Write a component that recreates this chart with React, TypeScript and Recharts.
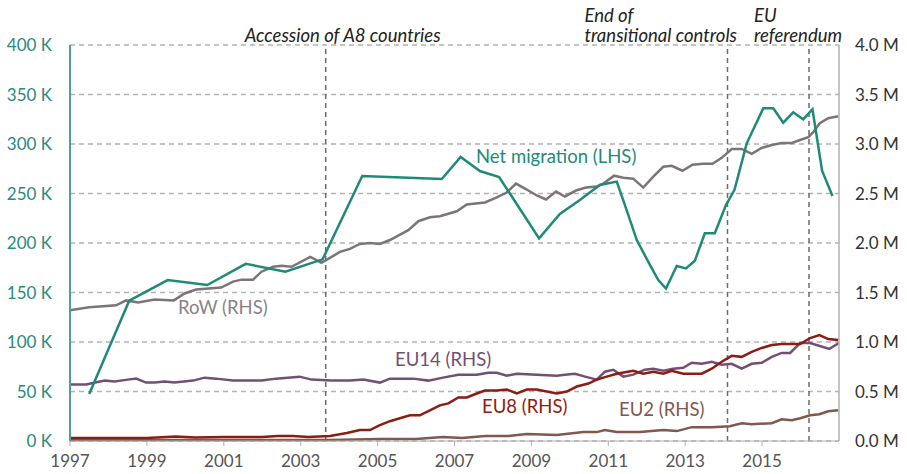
import React from 'react';
import {
  LineChart,
  Line,
  XAxis,
  YAxis,
  CartesianGrid,
  ReferenceLine,
} from 'recharts';

// Net migration, thousands (LHS)
const netYears = [
  1997.5, 1998.54, 1999.54, 2000.57, 2001.57, 2002.6, 2003.57, 2004.6, 2006.67,
  2007.16, 2007.66, 2008.16, 2009.2, 2009.74, 2010.26, 2010.78, 2011.22, 2011.48,
  2011.74, 2012.04, 2012.3, 2012.5, 2012.78, 2013.02, 2013.25, 2013.51, 2013.77,
  2014.06, 2014.28, 2014.6, 2015.03, 2015.29, 2015.55, 2015.81, 2016.07, 2016.31,
  2016.56, 2016.83,
];
const netValues = [
  47.5, 141.7, 162.6, 157.6, 179, 171, 183.5, 267.7, 264.6,
  286.9, 272.7, 266.7, 204.7, 229.3, 243.4, 258.6, 262, 233,
  203, 181, 162.6, 154, 176.8, 174.4, 182, 209.8, 209.8,
  238.4, 253.5, 300.7, 336, 336, 321.5, 332, 325, 335,
  273, 247.5,
];

// Stocks, millions (RHS)
const rowYears = [
  1997.0, 1997.5, 1998.2, 1998.46, 1998.77, 1999.2, 1999.7, 1999.98, 2000.28, 2000.93,
  2001.24, 2001.46, 2001.76, 2001.98, 2002.28, 2002.5, 2002.76, 2003.25, 2003.54, 2003.76,
  2004.02, 2004.28, 2004.54, 2004.8, 2005.06, 2005.32, 2005.8, 2006.06, 2006.36, 2006.62,
  2007.06, 2007.32, 2007.79, 2008.1, 2008.36, 2008.6, 2008.88, 2009.14, 2009.38, 2009.64,
  2009.87, 2010.16, 2010.42, 2010.7, 2010.87, 2011.15, 2011.39, 2011.65, 2011.91, 2012.17,
  2012.43, 2012.65, 2012.93, 2013.19, 2013.47, 2013.71, 2013.95, 2014.21, 2014.47, 2014.73,
  2014.99, 2015.25, 2015.51, 2015.77, 2015.99, 2016.2, 2016.33, 2016.5, 2016.72, 2016.98,
];
const rowValues = [
  1.32, 1.35, 1.37, 1.42, 1.4, 1.43, 1.42, 1.49, 1.53, 1.55,
  1.61, 1.63, 1.63, 1.71, 1.76, 1.77, 1.76, 1.86, 1.8, 1.85,
  1.91, 1.94, 1.99, 2.0, 1.99, 2.03, 2.13, 2.22, 2.26, 2.27,
  2.32, 2.39, 2.41, 2.46, 2.51, 2.6, 2.54, 2.48, 2.44, 2.52,
  2.47, 2.53, 2.56, 2.57, 2.6, 2.68, 2.66, 2.65, 2.56, 2.67,
  2.77, 2.78, 2.73, 2.79, 2.8, 2.8, 2.86, 2.95, 2.95, 2.9,
  2.96, 2.99, 3.01, 3.01, 3.04, 3.07, 3.12, 3.21, 3.26, 3.28,
];

const eu14Years = [
  1997.0, 1997.42, 1997.9, 1998.16, 1998.5, 1998.72, 1998.98, 1999.2, 1999.46, 1999.72,
  2000.2, 2000.5, 2000.8, 2001.24, 2001.67, 2001.98, 2002.36, 2002.97, 2003.28, 2003.8,
  2004.28, 2004.63, 2005.06, 2005.32, 2005.93, 2006.32, 2006.7, 2007.1, 2007.58, 2007.88,
  2008.1, 2008.36, 2008.62, 2009.14, 2009.66, 2009.87, 2010.13, 2010.4, 2010.7, 2010.91,
  2011.13, 2011.39, 2011.65, 2011.95, 2012.17, 2012.43, 2012.69, 2012.95, 2013.17, 2013.43,
  2013.69, 2013.95, 2014.21, 2014.47, 2014.73, 2014.99, 2015.25, 2015.51, 2015.73, 2015.99,
  2016.25, 2016.5, 2016.75, 2017.0,
];
const eu14Values = [
  0.57, 0.57, 0.61, 0.6, 0.62, 0.63, 0.59, 0.59, 0.6, 0.59,
  0.61, 0.64, 0.63, 0.61, 0.61, 0.61, 0.63, 0.65, 0.62, 0.61,
  0.61, 0.62, 0.59, 0.63, 0.63, 0.61, 0.64, 0.67, 0.67, 0.69,
  0.69, 0.66, 0.68, 0.67, 0.66, 0.67, 0.68, 0.65, 0.62, 0.7,
  0.72, 0.65, 0.67, 0.72, 0.73, 0.71, 0.73, 0.74, 0.79, 0.78,
  0.8, 0.77, 0.78, 0.73, 0.78, 0.79, 0.85, 0.89, 0.89, 0.99,
  0.99, 0.96, 0.93, 0.99,
];

const eu8Years = [
  1997.0, 1998.0, 1999.0, 1999.75, 2000.25, 2001.0, 2002.0, 2002.4, 2002.8, 2003.2,
  2003.76, 2004.2, 2004.54, 2004.8, 2005.06, 2005.32, 2005.58, 2005.84, 2006.1, 2006.36,
  2006.62, 2006.84, 2007.1, 2007.32, 2007.58, 2007.79, 2008.1, 2008.36, 2008.62, 2008.88,
  2009.14, 2009.4, 2009.66, 2009.92, 2010.18, 2010.48, 2010.7, 2010.96, 2011.22, 2011.65,
  2011.91, 2012.17, 2012.43, 2012.65, 2012.95, 2013.43, 2013.69, 2013.95, 2014.21, 2014.47,
  2014.73, 2014.99, 2015.25, 2015.51, 2015.77, 2015.99, 2016.25, 2016.49, 2016.72, 2016.98,
];
const eu8Values = [
  0.03, 0.03, 0.03, 0.045, 0.035, 0.04, 0.04, 0.05, 0.05, 0.04,
  0.05, 0.08, 0.11, 0.11, 0.16, 0.2, 0.23, 0.26, 0.26, 0.31,
  0.36, 0.38, 0.44, 0.44, 0.48, 0.51, 0.51, 0.52, 0.48, 0.52,
  0.52, 0.5, 0.48, 0.5, 0.55, 0.58, 0.62, 0.65, 0.68, 0.71,
  0.68, 0.7, 0.68, 0.71, 0.68, 0.68, 0.73, 0.8, 0.86, 0.85,
  0.9, 0.94, 0.97, 0.98, 0.98, 0.98, 1.04, 1.07, 1.03, 1.02,
];

const eu2Years = [
  1997.0, 1999.0, 2001.0, 2003.76, 2005.06, 2006.0, 2006.7, 2007.2, 2007.8, 2008.4,
  2008.88, 2009.66, 2010.35, 2010.7, 2010.91, 2011.22, 2011.82, 2012.43, 2012.78, 2013.17,
  2013.69, 2014.16, 2014.47, 2014.73, 2015.25, 2015.51, 2015.77, 2015.99, 2016.25, 2016.49,
  2016.72, 2016.98,
];
const eu2Values = [
  0.01, 0.01, 0.01, 0.01, 0.02, 0.02, 0.04, 0.03, 0.05, 0.05,
  0.07, 0.06, 0.09, 0.09, 0.11, 0.09, 0.09, 0.11, 0.1, 0.14,
  0.14, 0.15, 0.18, 0.17, 0.18, 0.22, 0.21, 0.23, 0.26, 0.27,
  0.3, 0.31,
];

const xTicks = [1997, 1999, 2001, 2003, 2005, 2007, 2009, 2011, 2013, 2015];
const leftTicks = [0, 50, 100, 150, 200, 250, 300, 350, 400];
const rightTicks = [0, 0.5, 1, 1.5, 2, 2.5, 3, 3.5, 4];

const events = [
  { x: 2003.65, lines: ['Accession of A8 countries'], dx: -81 },
  { x: 2014.1, lines: ['End of', 'transitional controls'], dx: -143 },
  { x: 2016.22, lines: ['EU', 'referendum'], dx: -55 },
];

const toPoints = (xs: number[], ys: number[]) => xs.map((x, i) => ({ x, v: ys[i] }));

const FONT = 'Lato, "Noto Sans", sans-serif';

const seriesLabels = [
  { text: 'Net migration (LHS)', color: '#1f8a78', left: 476, top: 146 },
  { text: 'RoW (RHS)', color: '#8a8286', left: 178, top: 297 },
  { text: 'EU14 (RHS)', color: '#734f73', left: 395, top: 349 },
  { text: 'EU8 (RHS)', color: '#8b1d12', left: 482, top: 396 },
  { text: 'EU2 (RHS)', color: '#80584f', left: 619, top: 399 },
];

export default function App() {
  return (
    <div style={{ position: 'absolute', left: 0, top: 0, width: 907, height: 474, background: '#fff', fontFamily: FONT }}>
      <LineChart width={907} height={474} margin={{ top: 45, right: 0, bottom: 0, left: 0 }}>
        <CartesianGrid yAxisId="left" vertical={false} stroke="#b3b3b3" strokeDasharray="5 4" strokeWidth={1.3} />
        <XAxis
          dataKey="x"
          type="number"
          domain={[1997, 2017]}
          ticks={xTicks}
          allowDuplicatedCategory={false}
          height={33}
          stroke="#b0b0b0"
          tickSize={5}
          tickMargin={9}
          tick={{ fill: '#555', fontSize: 17, fontFamily: FONT }}
        />
        <YAxis
          yAxisId="left"
          orientation="left"
          domain={[0, 400]}
          ticks={leftTicks}
          width={70}
          stroke="#4f9f94"
          strokeWidth={2}
          tickLine={false}
          tickSize={0}
          tickMargin={18}
          tickFormatter={(v: number) => `${v} K`}
          tick={{ fill: '#2a8a7c', fontSize: 17, fontFamily: FONT }}
        />
        <YAxis
          yAxisId="right"
          orientation="right"
          domain={[0, 4]}
          ticks={rightTicks}
          width={68}
          stroke="#b0b0b0"
          strokeWidth={1.5}
          tickLine={false}
          tickSize={0}
          tickMargin={16}
          tickFormatter={(v: number) => `${v.toFixed(1)} M`}
          tick={{ fill: '#333', fontSize: 17, fontFamily: FONT }}
        />
        {events.map((e) => (
          <ReferenceLine
            key={e.x}
            x={e.x}
            yAxisId="left"
            stroke="#6b6b6b"
            strokeWidth={1.5}
            strokeDasharray="5 4"
            label={(props: any) => {
              const vb = props.viewBox || {};
              const n = e.lines.length;
              return (
                <text fontFamily={FONT} fontStyle="italic" fontSize={18.5} fill="#222">
                  {e.lines.map((t, i) => (
                    <tspan key={t} x={vb.x + e.dx} y={vb.y - 3 - (n - 1 - i) * 20}>
                      {t}
                    </tspan>
                  ))}
                </text>
              );
            }}
          />
        ))}
        <Line yAxisId="right" data={toPoints(eu2Years, eu2Values)} dataKey="v" type="linear" stroke="#80584f" strokeWidth={2.5} dot={false} isAnimationActive={false} />
        <Line yAxisId="right" data={toPoints(eu14Years, eu14Values)} dataKey="v" type="linear" stroke="#734f73" strokeWidth={2.5} dot={false} isAnimationActive={false} />
        <Line yAxisId="right" data={toPoints(eu8Years, eu8Values)} dataKey="v" type="linear" stroke="#8b1d12" strokeWidth={2.5} dot={false} isAnimationActive={false} />
        <Line yAxisId="right" data={toPoints(rowYears, rowValues)} dataKey="v" type="linear" stroke="#7d7479" strokeWidth={2.5} dot={false} isAnimationActive={false} />
        <Line yAxisId="left" data={toPoints(netYears, netValues)} dataKey="v" type="linear" stroke="#1f8a78" strokeWidth={2.5} dot={false} isAnimationActive={false} />
      </LineChart>
      {seriesLabels.map((l) => (
        <div
          key={l.text}
          style={{ position: 'absolute', left: l.left, top: l.top, color: l.color, fontSize: 18.5, lineHeight: '20px', whiteSpace: 'nowrap' }}
        >
          {l.text}
        </div>
      ))}
    </div>
  );
}
